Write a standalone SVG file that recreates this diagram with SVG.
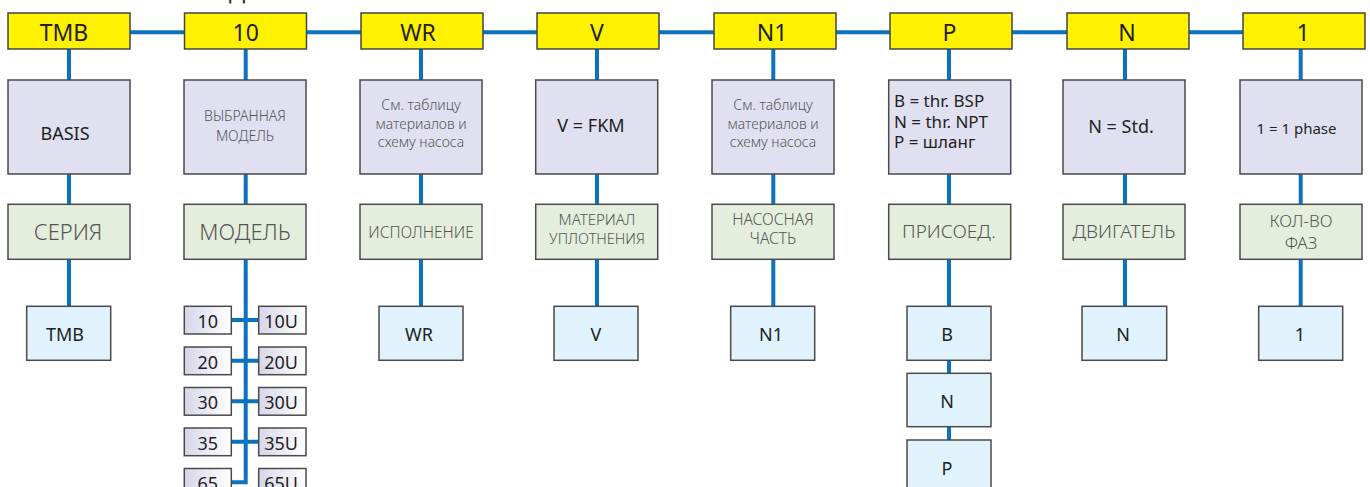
<svg xmlns="http://www.w3.org/2000/svg" width="1370" height="487" viewBox="0 0 1370 487">
<style>
text{font-family:"Noto Sans","Open Sans",sans-serif;text-anchor:middle;fill:#231f20}
.y{fill:#fff200;stroke:#444;stroke-width:1.5}
.g{fill:#e0e0f0;stroke:#4a4a4a;stroke-width:1.5}
.e{fill:#e3efdc;stroke:#4a4a4a;stroke-width:1.5}
.b{fill:#e0f2fb;stroke:#4a4a4a;stroke-width:1.5}
.s{fill:url(#grad);stroke:#4a4a4a;stroke-width:1.5}
.ty{font-size:23px}
.tb{font-size:18px}
.tl{fill:#555;font-weight:300}
.w{fill:none;stroke:#0a72bf;stroke-width:4}
</style>
<defs>
<linearGradient id="grad" x1="0" y1="0" x2="1" y2="0">
<stop offset="0" stop-color="#d6d6ea"/>
<stop offset="1" stop-color="#ffffff"/>
</linearGradient>
</defs>
<text x="237" y="0" style="font-size:22px">Д</text>
<g id="connectors">
<line class="w" x1="130" y1="32.3" x2="1243" y2="32.3"/>
<path class="w" d="M69 49V80M69 174V204M69 259V306"/>
<path class="w" d="M245.7 49V80M245.7 174V204M245.7 259V482.2H231M231 320H259M231 360.7H259M231 401.2H259M231 441.7H259"/>
<path class="w" d="M421 49V80M421 174V204M421 259V306"/>
<path class="w" d="M597 49V80M597 174V204M597 259V306"/>
<path class="w" d="M773.3 49V80M773.3 174V204M773.3 259V306"/>
<path class="w" d="M949 49V80M949 174V204M949 259V306M949 360V374M949 426V440"/>
<path class="w" d="M1125 49V80M1125 174V204M1125 259V306"/>
<path class="w" d="M1300.7 49V80M1300.7 174V204M1300.7 259V306"/>
</g>
<g id="col1">
<rect class="y" x="8" y="13" width="122" height="36"/><text class="ty" x="64" y="40.5">TMB</text>
<rect class="g" x="8" y="80" width="122" height="94"/><text class="tb" x="65" y="140">BASIS</text>
<rect class="e" x="8" y="204.3" width="122" height="55"/><text class="tl" x="68" y="240" style="font-size:22px">СЕРИЯ</text>
<rect class="b" x="26.7" y="306.3" width="84" height="54"/><text class="tb" x="65" y="341">TMB</text>
</g>
<g id="col2">
<rect class="y" x="184.5" y="13" width="122" height="36"/><text class="ty" x="245.7" y="40.5">10</text>
<rect class="g" x="184" y="80" width="122" height="94"/>
<text class="tl" x="245" y="121" style="font-size:14px">ВЫБРАННАЯ</text>
<text class="tl" x="245" y="141" style="font-size:14px">МОДЕЛЬ</text>
<rect class="e" x="184" y="204.3" width="122" height="55"/><text class="tl" x="245" y="240" style="font-size:22px">МОДЕЛЬ</text>
</g>
<g id="models">
<rect class="s" x="184.3" y="306.3" width="47" height="27.7"/><text class="tb" x="207.8" y="328">10</text>
<rect class="s" x="258.7" y="306.3" width="47.3" height="27.7"/><text class="tb" x="281" y="328">10U</text>
<rect class="s" x="184.3" y="347" width="47" height="27.7"/><text class="tb" x="207.8" y="368.5">20</text>
<rect class="s" x="258.7" y="347" width="47.3" height="27.7"/><text class="tb" x="281" y="368.5">20U</text>
<rect class="s" x="184.3" y="387.5" width="47" height="27.7"/><text class="tb" x="207.8" y="409">30</text>
<rect class="s" x="258.7" y="387.5" width="47.3" height="27.7"/><text class="tb" x="281" y="409">30U</text>
<rect class="s" x="184.3" y="428" width="47" height="27.7"/><text class="tb" x="207.8" y="449.5">35</text>
<rect class="s" x="258.7" y="428" width="47.3" height="27.7"/><text class="tb" x="281" y="449.5">35U</text>
<rect class="s" x="184.3" y="468.5" width="47" height="27.7"/><text class="tb" x="207.8" y="490">65</text>
<rect class="s" x="258.7" y="468.5" width="47.3" height="27.7"/><text class="tb" x="281" y="490">65U</text>
</g>
<g id="col3">
<rect class="y" x="361" y="13" width="122" height="36"/><text class="ty" x="418" y="40.5">WR</text>
<rect class="g" x="360" y="80" width="122" height="94"/>
<text class="tl" x="421" y="110" style="font-size:14px">См. таблицу</text>
<text class="tl" x="421" y="128.5" style="font-size:14px">материалов и</text>
<text class="tl" x="421" y="147" style="font-size:14px">схему насоса</text>
<rect class="e" x="360" y="204.3" width="122" height="55"/><text class="tl" x="421" y="238.3" style="font-size:15.5px">ИСПОЛНЕНИЕ</text>
<rect class="b" x="379" y="306.3" width="84" height="54"/><text class="tb" x="419" y="341">WR</text>
</g>
<g id="col4">
<rect class="y" x="537" y="13" width="122" height="36"/><text class="ty" x="597" y="40.5">V</text>
<rect class="g" x="535.7" y="80" width="122" height="94"/><text class="tb" x="591" y="131.7">V = FKM</text>
<rect class="e" x="535.7" y="204.3" width="122" height="55"/>
<text class="tl" x="597" y="225" style="font-size:15px">МАТЕРИАЛ</text>
<text class="tl" x="597" y="244" style="font-size:14.5px">УПЛОТНЕНИЯ</text>
<rect class="b" x="554" y="306.3" width="84" height="54"/><text class="tb" x="596" y="341">V</text>
</g>
<g id="col5">
<rect class="y" x="714" y="13" width="122" height="36"/><text class="ty" x="772" y="40.5">N1</text>
<rect class="g" x="712" y="80" width="122" height="94"/>
<text class="tl" x="773" y="110" style="font-size:14px">См. таблицу</text>
<text class="tl" x="773" y="128.5" style="font-size:14px">материалов и</text>
<text class="tl" x="773" y="147" style="font-size:14px">схему насоса</text>
<rect class="e" x="712" y="204.3" width="122" height="55"/>
<text class="tl" x="773" y="225" style="font-size:15.5px">НАСОСНАЯ</text>
<text class="tl" x="773" y="244" style="font-size:15.5px">ЧАСТЬ</text>
<rect class="b" x="730.7" y="306.3" width="84" height="54"/><text class="tb" x="771" y="341">N1</text>
</g>
<g id="col6">
<rect class="y" x="890" y="13" width="122" height="36"/><text class="ty" x="949.5" y="40.5">P</text>
<rect class="g" x="888.7" y="80" width="122" height="94"/>
<text class="tb" x="894" y="106.7" style="text-anchor:start;font-size:17px">B = thr. BSP</text>
<text class="tb" x="894" y="127.5" style="text-anchor:start;font-size:17px">N = thr. NPT</text>
<text class="tb" x="894" y="147.5" style="text-anchor:start;font-size:17px">P = шланг</text>
<rect class="e" x="888.7" y="204.3" width="122" height="55"/><text class="tl" x="949" y="238.3" style="font-size:19px">ПРИСОЕД.</text>
<rect class="b" x="907" y="306.3" width="84" height="54"/><text class="tb" x="947" y="341">B</text>
<rect class="b" x="907" y="373.3" width="84" height="53.4"/><text class="tb" x="947" y="408">N</text>
<rect class="b" x="907" y="440" width="84" height="54"/><text class="tb" x="947" y="474.5">P</text>
</g>
<g id="col7">
<rect class="y" x="1067" y="13" width="122" height="36"/><text class="ty" x="1127" y="40.5">N</text>
<rect class="g" x="1063" y="80" width="122" height="94"/><text class="tb" x="1121" y="133.3">N = Std.</text>
<rect class="e" x="1063" y="204.3" width="122" height="55"/><text class="tl" x="1124" y="238.3" style="font-size:19px">ДВИГАТЕЛЬ</text>
<rect class="b" x="1082" y="306.3" width="84.7" height="54"/><text class="tb" x="1123" y="341">N</text>
</g>
<g id="col8">
<rect class="y" x="1243" y="13" width="122" height="36"/><text class="ty" x="1303" y="40.5">1</text>
<rect class="g" x="1240" y="80" width="122" height="94"/><text class="tb" x="1296.5" y="134" style="font-size:15px">1 = 1 phase</text>
<rect class="e" x="1240" y="204.3" width="122" height="55"/>
<text class="tl" x="1301" y="227.3" style="font-size:17px">КОЛ-ВО</text>
<text class="tl" x="1301" y="249" style="font-size:17px">ФАЗ</text>
<rect class="b" x="1258.7" y="306.3" width="84" height="54"/><text class="tb" x="1300" y="341">1</text>
</g>
</svg>
